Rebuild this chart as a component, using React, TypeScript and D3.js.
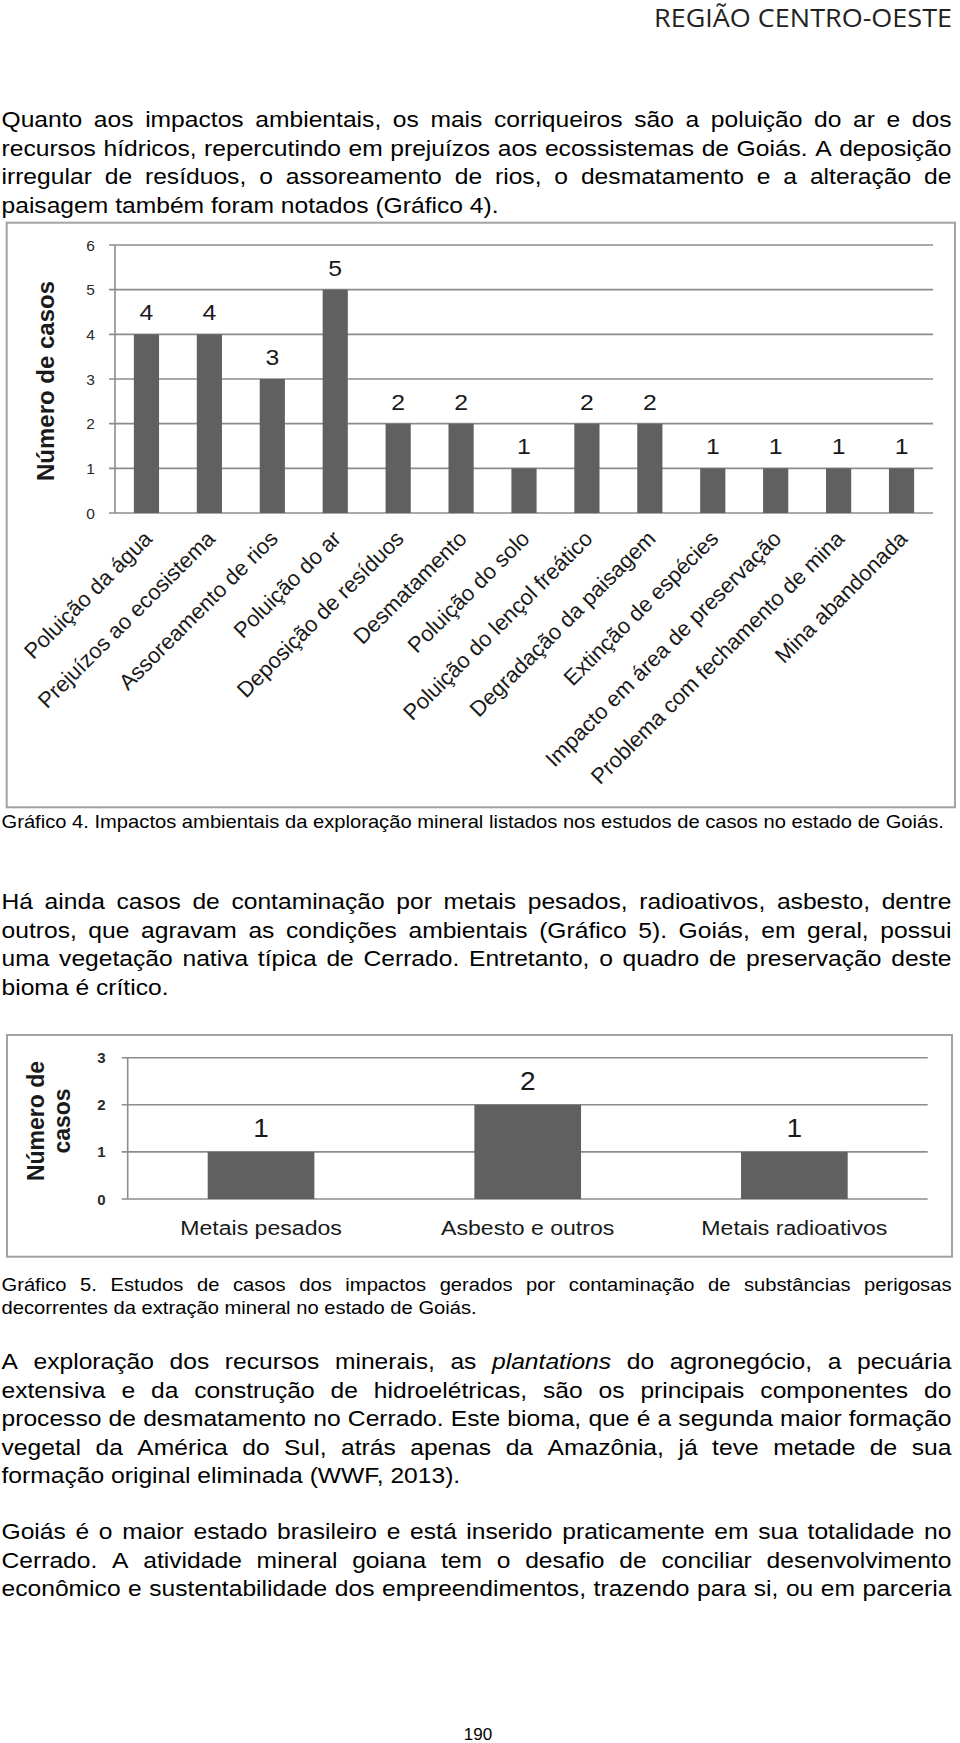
import React from "react";
import * as d3 from "d3";

// ---------------- DATA ----------------
const headerText = "REGIÃO CENTRO-OESTE";

const paragraph1 = [
  "Quanto aos impactos ambientais, os mais corriqueiros são a poluição do ar e dos",
  "recursos hídricos, repercutindo em prejuízos aos ecossistemas de Goiás. A deposição",
  "irregular de resíduos, o assoreamento de rios, o desmatamento e a alteração de",
  "paisagem também foram notados (Gráfico 4).",
];

const caption1 = [
  "Gráfico 4. Impactos ambientais da exploração mineral listados nos estudos de casos no estado de Goiás.",
];

const paragraph2 = [
  "Há ainda casos de contaminação por metais pesados, radioativos, asbesto, dentre",
  "outros, que agravam as condições ambientais (Gráfico 5). Goiás, em geral, possui",
  "uma vegetação nativa típica de Cerrado. Entretanto, o quadro de preservação deste",
  "bioma é crítico.",
];

const caption2 = [
  "Gráfico 5. Estudos de casos dos impactos gerados por contaminação de substâncias perigosas",
  "decorrentes da extração mineral no estado de Goiás.",
];

const paragraph3 = [
  "A exploração dos recursos minerais, as *plantations* do agronegócio, a pecuária",
  "extensiva e da construção de hidroelétricas, são os principais componentes do",
  "processo de desmatamento no Cerrado. Este bioma, que é a segunda maior formação",
  "vegetal da América do Sul, atrás apenas da Amazônia, já teve metade de sua",
  "formação original eliminada (WWF, 2013).",
];

const paragraph4 = [
  "Goiás é o maior estado brasileiro e está inserido praticamente em sua totalidade no",
  "Cerrado. A atividade mineral goiana tem o desafio de conciliar desenvolvimento",
  "econômico e sustentabilidade dos empreendimentos, trazendo para si, ou em parceria",
];

const pageNumber = "190";

const impactCategories = [
  "Poluição da água",
  "Prejuízos ao ecosistema",
  "Assoreamento de rios",
  "Poluição do ar",
  "Deposição de resíduos",
  "Desmatamento",
  "Poluição do solo",
  "Poluição do lençol freático",
  "Degradação da paisagem",
  "Extinção de espécies",
  "Impacto em área de preservação",
  "Problema com fechamento de mina",
  "Mina abandonada",
];
const impactCases = [4, 4, 3, 5, 2, 2, 1, 2, 2, 1, 1, 1, 1];
const impactTicks = [0, 1, 2, 3, 4, 5, 6];

const contamCategories = ["Metais pesados", "Asbesto e outros", "Metais radioativos"];
const contamCases = [1, 2, 1];
const contamTicks = [0, 1, 2, 3];

const yAxisTitle = "Número de casos";
const yAxisTitleLines = ["Número de", "casos"];

// ---------------- LAYOUT / STYLE ----------------
const W = 960;
const H = 1743;
const FONT = "'Liberation Sans', Arial, Helvetica, sans-serif";
const BAR = "#606060";
const GRID = "#8c8c8c";
const FRAME = "#a3a3a3";
const INK = "#1a1a1a";
const SX = 1.12;

let measureCtx: CanvasRenderingContext2D | null = null;
function textWidth(s: string, font: string): number {
  if (!measureCtx) measureCtx = document.createElement("canvas").getContext("2d");
  if (!measureCtx) return s.length * 10;
  measureCtx.font = font;
  return measureCtx.measureText(s).width;
}

function TextLine({
  text,
  x,
  y,
  width,
  justify,
  size,
  sx,
}: {
  text: string;
  x: number;
  y: number;
  width: number;
  justify: boolean;
  size: number;
  sx: number;
}) {
  const words = text.split(" ").map((w) => {
    const it = w.startsWith("*");
    return { t: w.replace(/\*/g, ""), it };
  });
  const fontOf = (it: boolean) => `${it ? "italic " : ""}${size}px 'Liberation Sans'`;
  const ws = words.map((w) => textWidth(w.t, fontOf(w.it)));
  const sum = ws.reduce((a, b) => a + b, 0);
  const space = textWidth(" ", fontOf(false));
  const avail = width / sx;
  const gap = justify && words.length > 1 ? (avail - sum) / (words.length - 1) : space;
  const pos: number[] = [];
  let cur = 0;
  ws.forEach((w) => {
    pos.push(cur);
    cur += w + gap;
  });
  return (
    <g transform={`translate(${x},${y}) scale(${sx},1)`}>
      {words.map((w, i) => (
        <text
          key={i}
          x={pos[i]}
          y={0}
          fontFamily={FONT}
          fontSize={size}
          fontStyle={w.it ? "italic" : "normal"}
          fill="#000"
        >
          {w.t}
        </text>
      ))}
    </g>
  );
}

function Paragraph({
  lines,
  y0,
  step,
  size,
  justifyLast = false,
}: {
  lines: string[];
  y0: number;
  step: number;
  size: number;
  justifyLast?: boolean;
}) {
  return (
    <g>
      {lines.map((l, i) => (
        <TextLine
          key={i}
          text={l}
          x={1.5}
          y={y0 + i * step}
          width={950}
          justify={i < lines.length - 1 || justifyLast}
          size={size}
          sx={SX}
        />
      ))}
    </g>
  );
}

function Chart1() {
  const left = 115;
  const right = 933;
  const y = d3.scaleLinear().domain([0, 6]).range([513, 245]);
  const x = d3
    .scaleBand<string>()
    .domain(impactCategories)
    .range([left, right])
    .paddingInner(0.6)
    .paddingOuter(0.3);
  const bw = x.bandwidth();
  return (
    <g>
      <rect x={6.7} y={222.7} width={948.3} height={584.6} fill="#fff" stroke={FRAME} strokeWidth={2} />
      {impactTicks.map((t) => (
        <g key={t}>
          <line x1={left - 6} x2={right} y1={y(t)} y2={y(t)} stroke={GRID} strokeWidth={1.6} />
          <text x={90.5} y={y(t) + 5.5} fontFamily={FONT} fontSize={15.5} textAnchor="middle" fill="#2a2a2a">
            {t}
          </text>
        </g>
      ))}
      <line x1={left} x2={left} y1={y(6)} y2={y(0)} stroke={GRID} strokeWidth={1.6} />
      {impactCategories.map((c, i) => (
        <rect key={c} x={x(c)} y={y(impactCases[i])} width={bw} height={y(0) - y(impactCases[i])} fill={BAR} />
      ))}
      {impactCategories.map((c, i) => (
        <text
          key={"v" + c}
          transform={`translate(${(x(c) as number) + bw / 2},${y(impactCases[i]) - 14}) scale(1.1,1)`}
          fontFamily={FONT}
          fontSize={22.5}
          textAnchor="middle"
          fill={INK}
        >
          {impactCases[i]}
        </text>
      ))}
      {impactCategories.map((c) => (
        <text
          key={"l" + c}
          transform={`translate(${(x(c) as number) + bw / 2 + 7},${y(0) + 27}) rotate(-45)`}
          fontFamily={FONT}
          fontSize={22}
          textAnchor="end"
          fill={INK}
        >
          {c}
        </text>
      ))}
      <text
        transform={`translate(54,${(y(0) + y(6)) / 2 + 2}) rotate(-90)`}
        fontFamily={FONT}
        fontSize={24}
        fontWeight="bold"
        textAnchor="middle"
        fill={INK}
      >
        {yAxisTitle}
      </text>
    </g>
  );
}

function Chart2() {
  const left = 127.7;
  const right = 927.7;
  const y = d3.scaleLinear().domain([0, 3]).range([1199, 1057.7]);
  const x = d3
    .scaleBand<string>()
    .domain(contamCategories)
    .range([left, right])
    .paddingInner(0.6)
    .paddingOuter(0.3);
  const bw = x.bandwidth();
  return (
    <g>
      <rect x={7} y={1035} width={945} height={221.7} fill="#fff" stroke={FRAME} strokeWidth={2} />
      {contamTicks.map((t) => (
        <g key={t}>
          <line x1={left - 6} x2={right} y1={y(t)} y2={y(t)} stroke={GRID} strokeWidth={1.6} />
          <text
            x={101.5}
            y={y(t) + 5.5}
            fontFamily={FONT}
            fontSize={15}
            fontWeight="bold"
            textAnchor="middle"
            fill="#2a2a2a"
          >
            {t}
          </text>
        </g>
      ))}
      <line x1={left} x2={left} y1={y(3)} y2={y(0)} stroke={GRID} strokeWidth={1.6} />
      {contamCategories.map((c, i) => (
        <rect key={c} x={x(c)} y={y(contamCases[i])} width={bw} height={y(0) - y(contamCases[i])} fill={BAR} />
      ))}
      {contamCategories.map((c, i) => (
        <text
          key={"v" + c}
          transform={`translate(${(x(c) as number) + bw / 2},${y(contamCases[i]) - 15}) scale(1.1,1)`}
          fontFamily={FONT}
          fontSize={25.5}
          textAnchor="middle"
          fill={INK}
        >
          {contamCases[i]}
        </text>
      ))}
      {contamCategories.map((c) => (
        <text
          key={"l" + c}
          transform={`translate(${(x(c) as number) + bw / 2},1235) scale(1.1,1)`}
          fontFamily={FONT}
          fontSize={21}
          textAnchor="middle"
          fill={INK}
        >
          {c}
        </text>
      ))}
      {yAxisTitleLines.map((l, i) => (
        <text
          key={l}
          transform={`translate(${44 + i * 26},1121) rotate(-90)`}
          fontFamily={FONT}
          fontSize={23}
          fontWeight="bold"
          textAnchor="middle"
          fill={INK}
        >
          {l}
        </text>
      ))}
    </g>
  );
}

export default function App() {
  return (
    <div style={{ position: "absolute", left: 0, top: 0 }}>
      <svg width={W} height={H} viewBox={`0 0 ${W} ${H}`} style={{ display: "block", background: "#fff" }}>
        <rect x={0} y={0} width={W} height={H} fill="#fff" />
        <text
          x={654}
          y={26.5}
          fontFamily="'Open Sans', sans-serif"
          fontSize={25}
          textLength={298}
          lengthAdjust="spacingAndGlyphs"
          fill="#222"
        >
          {headerText}
        </text>
        <Paragraph lines={paragraph1} y0={127} step={28.7} size={22} />
        <Chart1 />
        <Paragraph lines={caption1} y0={828} step={23} size={18} />
        <Paragraph lines={paragraph2} y0={909} step={28.5} size={22} />
        <Chart2 />
        <Paragraph lines={caption2} y0={1291} step={23} size={18} />
        <Paragraph lines={paragraph3} y0={1369} step={28.5} size={22} />
        <Paragraph lines={paragraph4} y0={1539} step={28.5} size={22} justifyLast={true} />
        <text x={478} y={1740} fontFamily={FONT} fontSize={17} textAnchor="middle" fill="#000">
          {pageNumber}
        </text>
      </svg>
    </div>
  );
}
